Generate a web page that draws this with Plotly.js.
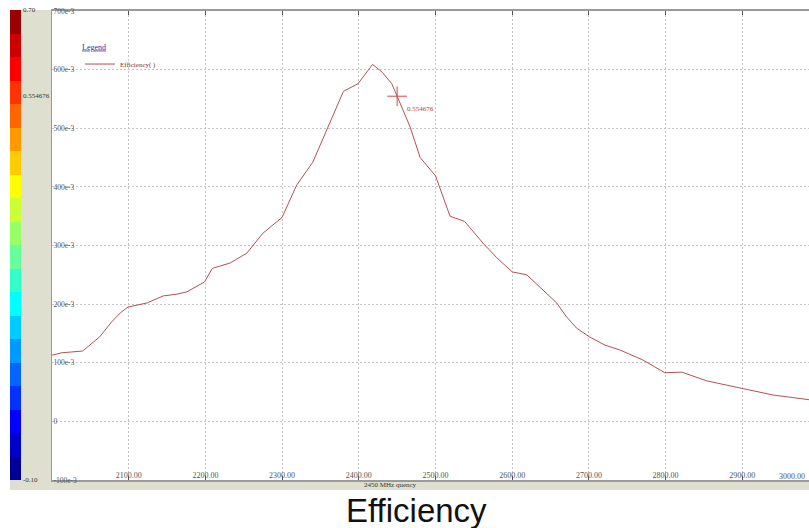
<!DOCTYPE html>
<html>
<head>
<meta charset="utf-8">
<script src="https://cdn.plot.ly/plotly-3.0.1.min.js"></script>
<style>
  html, body { margin: 0; padding: 0; background: #ffffff; overflow: hidden; }
  #chart { width: 809px; height: 528px; }
</style>
</head>
<body>
<div id="chart"></div>
<script>
// Frequency sweep (MHz) and measured efficiency
const freqMHz = [2000, 2013, 2040, 2062, 2078, 2089, 2099, 2124, 2145, 2163, 2176, 2189, 2199, 2209,
  2232, 2254, 2275, 2300, 2319, 2340, 2360, 2380, 2399, 2418, 2431, 2443, 2450, 2467, 2480,
  2500, 2519, 2538, 2562, 2580, 2600, 2619, 2658, 2671, 2684, 2701, 2721, 2740, 2770, 2799,
  2821, 2854, 2897, 2940, 2987];
const efficiency = [0.113, 0.117, 0.120, 0.144, 0.170, 0.185, 0.195, 0.202, 0.214, 0.217, 0.221, 0.231, 0.238, 0.261,
  0.270, 0.287, 0.321, 0.348, 0.403, 0.442, 0.502, 0.563, 0.576, 0.609, 0.595, 0.576, 0.554676, 0.502, 0.450,
  0.419, 0.350, 0.341, 0.304, 0.279, 0.255, 0.250, 0.202, 0.178, 0.159, 0.144, 0.130, 0.122, 0.105, 0.083,
  0.084, 0.069, 0.057, 0.045, 0.037];

// Cursor readout
const cursorFreq = [2450];
const cursorValue = [0.554676];
const cursorLabel = ['0.554676'];

// Axis ticks
const xTickVals = [2100, 2200, 2300, 2400, 2500, 2600, 2700, 2800, 2900];
const yTickVals = [-0.1, 0, 0.1, 0.2, 0.3, 0.4, 0.5, 0.6, 0.7];
const yTickText = ['-100e-3', '0', '100e-3', '200e-3', '300e-3', '400e-3', '500e-3', '600e-3', '700e-3'];

// Colour scale strip (stepped jet bands, low to high)
const bandColors = ['#000099', '#0000cc', '#0000ff', '#0033ff', '#0066ff', '#0099ff', '#00ccff', '#00ffff',
  '#33ffcc', '#66ff99', '#99ff66', '#ccff33', '#ffff00', '#ffcc00', '#ff9900', '#ff6600',
  '#ff3300', '#ff0000', '#cc0000', '#990000'];
const scaleTickVals = [0.7, 0.554676, -0.1];
const scaleTickText = ['0.70', '0.554676', '-0.10'];

const steppedScale = [];
bandColors.forEach((c, i) => {
  steppedScale.push([i / bandColors.length, c]);
  steppedScale.push([(i + 1) / bandColors.length, c]);
});

const serif = 'Liberation Serif, Times New Roman, serif';

const traces = [
  {
    type: 'scatter', mode: 'lines',
    x: freqMHz, y: efficiency,
    name: 'Efficiency( )',
    line: { color: '#b05454', width: 1 },
    hoverinfo: 'skip'
  },
  {
    type: 'scatter', mode: 'markers+text',
    x: cursorFreq, y: cursorValue,
    text: cursorLabel, textposition: 'bottom right',
    textfont: { family: serif, size: 7, color: '#c03a3a' },
    marker: { symbol: 'cross-thin-open', size: 14, color: '#d04848', line: { color: '#d04848', width: 1 } },
    showlegend: false, hoverinfo: 'skip'
  },
  {
    // carries the colour scale strip
    type: 'scatter', mode: 'markers',
    x: cursorFreq, y: cursorValue,
    marker: {
      color: cursorValue, colorscale: steppedScale, cmin: -0.1, cmax: 0.7, opacity: 0, size: 1,
      showscale: true,
      colorbar: {
        x: -0.0555, xanchor: 'left', xpad: 0, ypad: 0,
        y: 0.501, yanchor: 'middle',
        thickness: 11, lenmode: 'pixels', len: 470,
        outlinewidth: 0,
        tickmode: 'array', tickvals: scaleTickVals, ticktext: scaleTickText,
        ticks: '', ticklabelpad: 1,
        tickfont: { family: serif, size: 7, color: '#333333' }
      }
    },
    showlegend: false, hoverinfo: 'skip'
  }
];

const layout = {
  width: 809, height: 528,
  margin: { l: 52, r: 0, t: 11, b: 48, pad: 0 },
  paper_bgcolor: '#ffffff',
  plot_bgcolor: '#ffffff',
  showlegend: true,
  legend: {
    x: 0.037, y: 0.94, xanchor: 'left', yanchor: 'top',
    bgcolor: 'rgba(0,0,0,0)', borderwidth: 0,
    font: { family: serif, size: 7, color: '#8a3030' },
    title: { text: '<span style="text-decoration:underline">Legend</span>', side: 'top',
             font: { family: serif, size: 8, color: '#333399' } },
    itemwidth: 30, tracegroupgap: 0
  },
  xaxis: {
    range: [2000, 2987],
    tickmode: 'array', tickvals: xTickVals, tickformat: '.2f',
    ticklabelposition: 'inside', ticklabeloverflow: 'allow', ticklabelstandoff: -5,
    ticks: 'inside', ticklen: 4, tickcolor: '#555555',
    showline: true, linecolor: '#9a9a9a', linewidth: 2, mirror: 'ticks',
    showgrid: true, gridcolor: '#c4c4c4', griddash: '2px,2px', gridwidth: 1,
    zeroline: false,
    tickfont: { family: serif, size: 8, color: '#555555' },
    fixedrange: true
  },
  yaxis: {
    range: [-0.1, 0.7],
    tickmode: 'array', tickvals: yTickVals, ticktext: yTickText,
    ticklabelposition: 'inside', ticklabeloverflow: 'allow',
    ticks: '',
    showline: true, linecolor: '#9a9a9a', linewidth: 1,
    showgrid: true, gridcolor: '#c4c4c4', griddash: '2px,2px', gridwidth: 1,
    zeroline: false,
    tickfont: { family: serif, size: 7.5, color: '#555555' },
    fixedrange: true
  },
  shapes: [
    // side panel behind the scale labels
    { type: 'rect', xref: 'paper', yref: 'paper', x0: -0.041, x1: 0, y0: -0.0213, y1: 1.0021,
      fillcolor: '#dfdfd0', line: { width: 0 }, layer: 'below' },
    // strip under the frequency axis
    { type: 'rect', xref: 'paper', yref: 'paper', x0: -0.0555, x1: 1, y0: -0.0213, y1: 0,
      fillcolor: '#dfdfd0', line: { width: 0 }, layer: 'below' }
  ],
  annotations: [
    { xref: 'paper', yref: 'paper', x: 0.998, y: 0.0085, xanchor: 'right', yanchor: 'middle',
      text: '3000.00', showarrow: false, font: { family: serif, size: 8, color: '#555555' } },
    { xref: 'paper', yref: 'paper', x: 0.4465, y: -0.0107, xanchor: 'center', yanchor: 'middle',
      text: '2450 MHz quency', showarrow: false, font: { family: serif, size: 7, color: '#333333' } },
    { xref: 'paper', yref: 'paper', x: 0.481, y: -0.064, xanchor: 'center', yanchor: 'middle',
      text: 'Efficiency', showarrow: false,
      font: { family: 'Liberation Sans, Arial, sans-serif', size: 33, color: '#111111' } }
  ]
};

Plotly.newPlot('chart', traces, layout, { displayModeBar: false, staticPlot: true });
</script>
</body>
</html>
